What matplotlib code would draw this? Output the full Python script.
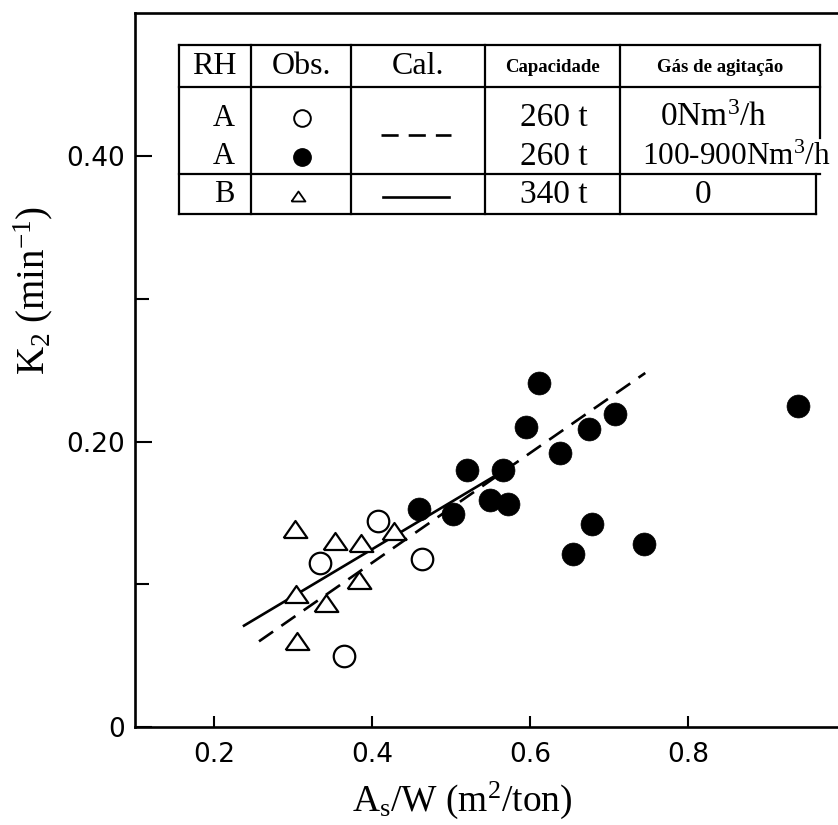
import matplotlib
matplotlib.use("Agg")
import matplotlib.pyplot as plt

plt.rcParams.update({
    "mathtext.fontset": "custom",
    "mathtext.rm": "Liberation Serif",
    "mathtext.it": "Liberation Serif:italic",
    "mathtext.bf": "Liberation Serif:bold",
})

# ---------------- data ----------------
filled_x = [0.611, 0.595, 0.708, 0.675, 0.638, 0.520, 0.566, 0.549, 0.572, 0.503, 0.459, 0.678, 0.655, 0.744, 0.939]
filled_y = [0.241, 0.210, 0.219, 0.209, 0.192, 0.180, 0.180, 0.159, 0.156, 0.149, 0.153, 0.142, 0.121, 0.128, 0.225]
open_x = [0.408, 0.334, 0.463, 0.364]
open_y = [0.144, 0.115, 0.118, 0.050]
tri_x = [0.303, 0.353, 0.386, 0.428, 0.383, 0.304, 0.342, 0.305]
tri_y = [0.139, 0.130, 0.129, 0.137, 0.103, 0.093, 0.087, 0.060]
calA_x = [0.257, 0.746]
calA_y = [0.060, 0.248]
calB_x = [0.238, 0.553]
calB_y = [0.071, 0.175]

x_ticks = [0.2, 0.4, 0.6, 0.8]
x_tick_labels = ["0.2", "0.4", "0.6", "0.8"]
y_ticks = [0.0, 0.2, 0.4]
y_tick_labels = ["0", "0.20", "0.40"]
y_minor = [0.1, 0.3]

table_header = ["RH", "Obs.", "Cal.", "Capacidade", "Gás de agitação"]
table_rh = ["A", "A", "B"]
table_cap = ["260 t", "260 t", "340 t"]
table_gas = ["0Nm$^3$/h", "100-900Nm$^3$/h", "0"]

# ---------------- figure ----------------
W, H = 838, 825
fig = plt.figure(figsize=(W / 100, H / 100), dpi=100)
ax = fig.add_axes([135 / W, (H - 727) / H, 703 / W, 713.75 / H])
ax.set_xlim(0.1, 0.99)
ax.set_ylim(0, 0.5)

dash = (0, (6.5, 3.8))
ax.plot(calA_x, calA_y, color="black", lw=1.9, linestyle=dash, zorder=2)
ax.plot(calB_x, calB_y, color="black", lw=1.9, linestyle="-", zorder=2)

tri_marker = [(-1, -0.72), (1, -0.72), (0, 0.72), (-1, -0.72)]
ax.plot(tri_x, tri_y, linestyle="none", marker=tri_marker, ms=17, mfc="white",
        mec="black", mew=1.6, zorder=3)
ax.plot(open_x, open_y, linestyle="none", marker="o", ms=15.5, mfc="white",
        mec="black", mew=1.6, zorder=3)
ax.plot(filled_x, filled_y, linestyle="none", marker="o", ms=16.5, mfc="black",
        mec="black", mew=0.5, zorder=4)

for side in ["left", "bottom", "top"]:
    ax.spines[side].set_linewidth(1.9)
ax.spines["right"].set_visible(False)

ax.set_xticks(x_ticks)
ax.set_xticklabels(x_tick_labels)
ax.set_yticks(y_ticks)
ax.set_yticklabels(y_tick_labels)
ax.set_yticks(y_minor, minor=True)
ax.tick_params(axis="x", direction="in", length=8, width=1.5, pad=11,
               labelsize=19, top=False)
ax.tick_params(axis="y", which="major", direction="in", length=12, width=1.5,
               pad=7, labelsize=19, right=False)
ax.tick_params(axis="y", which="minor", direction="in", length=10, width=1.5,
               right=False)
for lab in ax.get_xticklabels() + ax.get_yticklabels():
    lab.set_fontfamily("DejaVu Sans")

ax.set_xlabel(r"$\mathrm{A_s/W\ (m^2/ton)}$", fontsize=27, va="center")
ax.xaxis.set_label_coords((462 - 135) / 703, (727 - 800) / 713.75)
ax.set_ylabel(r"$\mathrm{K_2\ (min^{-1})}$", fontsize=28, va="center")
ax.yaxis.set_label_coords((33 - 135) / 703, (727 - 290) / 713.75)

# ---------------- table (drawn in pixel coordinates) ----------------
tab = fig.add_axes([0, 0, 1, 1], zorder=5)
tab.set_xlim(0, W)
tab.set_ylim(H, 0)
tab.axis("off")

lw_t = 1.6
xl, xr = 178.5, 820
yt, yh, ys, yb = 45, 87, 174, 214
cols = [251, 351, 485, 619.5]
tab.plot([xl, xr], [yt, yt], color="k", lw=lw_t)
tab.plot([xl, xr], [yh, yh], color="k", lw=lw_t)
tab.plot([xl, xr], [ys, ys], color="k", lw=lw_t)
tab.plot([xl, 816], [yb, yb], color="k", lw=lw_t)
tab.plot([xl, xl], [yt, yb], color="k", lw=lw_t)
tab.plot([xr, xr], [yt, 138], color="k", lw=lw_t)
tab.plot([816, 816], [ys, yb], color="k", lw=lw_t)
for c in cols:
    tab.plot([c, c], [yt, yb], color="k", lw=lw_t)

serif = "Liberation Serif"
hdr_x = [214.7, 301, 418, 552, 720]
for i, t in enumerate(table_header):
    if i < 3:
        tab.text(hdr_x[i], 67, t, ha="center", va="center", fontsize=23, family=serif)
    else:
        tab.text(hdr_x[i], 67, t, ha="center", va="center", fontsize=13.5,
                 family=serif, weight="bold")

row_y = [118, 157, 195]
for i in range(3):
    tab.text(224, row_y[i], table_rh[i], ha="center", va="center", fontsize=22, family=serif)
    tab.text(554, row_y[i], table_cap[i], ha="center", va="center", fontsize=24, family=serif)
gas_x = [714, 736, 703]
gas_fs = [24, 22.5, 24]
for i in range(3):
    tab.text(gas_x[i], row_y[i], table_gas[i], ha="center", va="center",
             fontsize=gas_fs[i], family=serif)

tab.plot([302], [row_y[0]], marker="o", ms=12, mfc="white", mec="k", mew=1.4)
tab.plot([302], [row_y[1]], marker="o", ms=12.5, mfc="k", mec="k")
tab.plot([298], [row_y[2] + 1], marker=tri_marker, ms=10, mfc="white", mec="k", mew=1.3)
tab.plot([381, 451], [135, 135], color="k", lw=1.9, linestyle=dash)
tab.plot([383, 449], [197, 197], color="k", lw=1.9)

fig.savefig("out.png", dpi=100)
